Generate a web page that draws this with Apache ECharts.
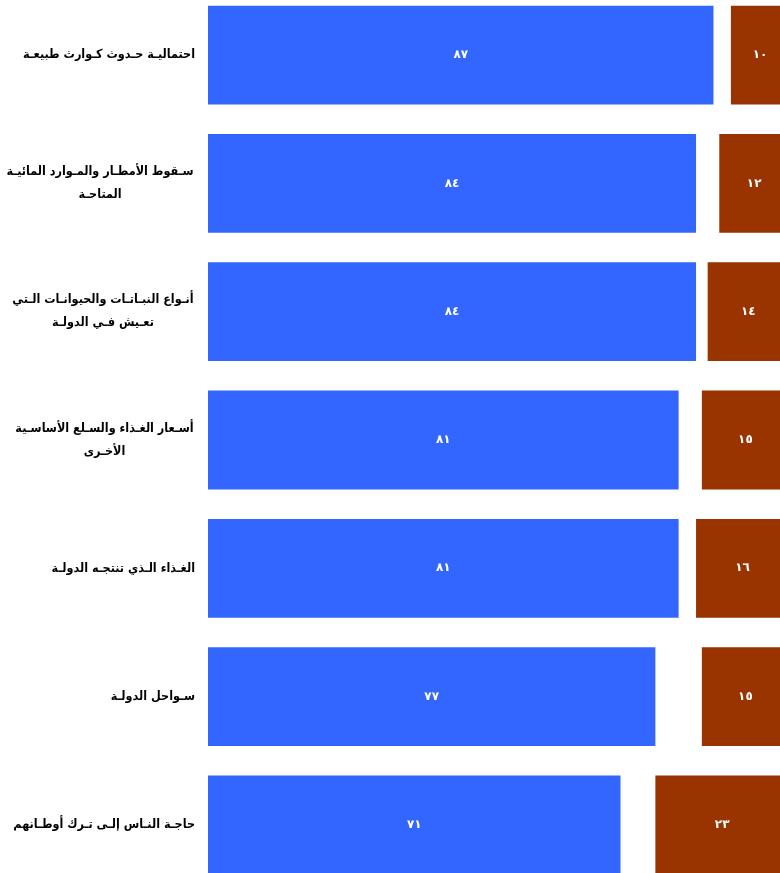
<!DOCTYPE html>
<html>
<head>
<meta charset="utf-8">
<script src="https://cdn.jsdelivr.net/npm/echarts@6/dist/echarts.min.js"></script>
<style>html,body{margin:0;padding:0;background:#fff;}#c{width:780px;height:873px;}</style>
</head>
<body>
<div id="c"></div>
<script>
var categories = [
  "احتماليـة حـدوث كـوارث طبيعـة",
  "سـقوط الأمطـار والمـوارد المائيـة\nالمتاحـة",
  "أنـواع النبـاتـات والحيوانـات الـتي\nتعـيش فـي الدولـة",
  "أسـعار الغـذاء والسـلع الأساسـية\nالأخـرى",
  "الغـذاء الـذي تنتجـه الدولـة",
  "سـواحل الدولـة",
  "حاجـة النـاس إلـى تـرك أوطـانهم"
];
var concerned = [87, 84, 84, 81, 81, 77, 71];
var unsure = [3, 4, 2, 4, 3, 8, 6];
var notConcerned = [10, 12, 14, 15, 16, 15, 23];

var LABEL_SIZE = 12.5;
var LABEL_FAMILY = "'DejaVu Sans Condensed', 'DejaVu Sans'";
var measureCtx = document.createElement("canvas").getContext("2d");
measureCtx.font = "bold " + LABEL_SIZE + "px " + LABEL_FAMILY;

function arDigits(n) {
  var d = "٠١٢٣٤٥٦٧٨٩";
  return String(n).replace(/[0-9]/g, function (c) { return d[+c]; });
}
var rich = {};
categories.forEach(function (v, i) {
  var lines = v.split("\n");
  var w = 0;
  lines.forEach(function (l) { w = Math.max(w, measureCtx.measureText(l).width); });
  rich["c" + i] = { width: Math.ceil(w) + 2, align: "center", fontFamily: LABEL_FAMILY, fontWeight: "bold", fontSize: LABEL_SIZE, lineHeight: 23, color: "#000" };
});
function fmtCat(v) {
  var i = categories.indexOf(v);
  var lines = v.split("\n");
  if (lines.length === 1) return v;
  return lines.map(function (l) { return "{c" + i + "|" + l + "}"; }).join("\n");
}

var chart = echarts.init(document.getElementById("c"));
chart.setOption({
  animation: false,
  grid: { left: 208, width: 581, top: -9, height: 898, containLabel: false, outerBoundsMode: "none" },
  xAxis: { type: "value", min: 0, max: 100, show: false, splitLine: { show: false } },
  yAxis: {
    type: "category",
    inverse: true,
    data: categories,
    axisLine: { show: false },
    axisTick: { show: false },
    axisLabel: {
      margin: 13,
      color: "#000",
      fontFamily: LABEL_FAMILY,
      fontWeight: "bold",
      fontSize: LABEL_SIZE,
      lineHeight: 23,
      align: "right",
      formatter: fmtCat,
      rich: rich
    }
  },
  series: [
    {
      type: "bar", stack: "s", data: concerned, barCategoryGap: "23%",
      itemStyle: { color: "#3366ff" },
      label: { show: true, position: "inside", color: "#fff", fontWeight: "bold", fontSize: 12, fontFamily: "DejaVu Sans",
        formatter: function (p) { return arDigits(p.value); } }
    },
    {
      type: "bar", stack: "s", data: unsure,
      itemStyle: { color: "rgba(0,0,0,0)" },
      label: { show: false }
    },
    {
      type: "bar", stack: "s", data: notConcerned,
      itemStyle: { color: "#993300" },
      label: { show: true, position: "inside", color: "#fff", fontWeight: "bold", fontSize: 12, fontFamily: "DejaVu Sans",
        formatter: function (p) { return arDigits(p.value); } }
    }
  ]
});
</script>
</body>
</html>
